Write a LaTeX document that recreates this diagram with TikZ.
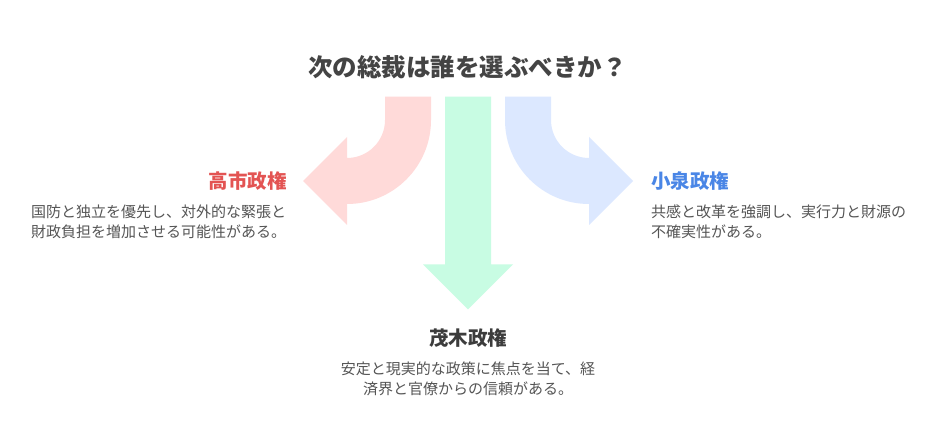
\documentclass[tikz,border=0pt]{standalone}
\usepackage{fontspec}
\setmainfont{Noto Sans CJK JP}
\definecolor{redfill}{HTML}{FFDAD9}
\definecolor{greenfill}{HTML}{C8FCE3}
\definecolor{bluefill}{HTML}{DCE8FF}
\definecolor{redtext}{HTML}{E35453}
\definecolor{bluetext}{HTML}{4A86E6}
\definecolor{darktext}{HTML}{3C3C3C}
\definecolor{titlecol}{HTML}{444444}
\definecolor{bodytext}{HTML}{555555}
\tikzset{
  arrowshape/.style={draw=none},
  titletext/.style={inner sep=0pt, font=\fontsize{24.5}{28}\selectfont\bfseries, text=titlecol},
  labeltext/.style={inner sep=0pt, font=\fontsize{19.5}{23}\selectfont\bfseries},
  bodynode/.style={inner sep=0pt, font=\fontsize{15}{20}\selectfont, text=bodytext},
}
\begin{document}
\begin{tikzpicture}[x=1pt,y=1pt]
\useasboundingbox (0,0) rectangle (936,444);
\fill[white] (0,0) rectangle (936,444);
% red arrow (left)
\fill[redfill] (385,347.3) -- (385,324) arc[start angle=0,end angle=-90,radius=38]
  -- (347,307) -- (303,263) -- (347,219) -- (347,240)
  arc[start angle=-90,end angle=0,radius=84] -- (431,347.3) -- cycle;
% blue arrow (right)
\fill[bluefill] (551,347.3) -- (551,324) arc[start angle=180,end angle=270,radius=38]
  -- (589,307) -- (633,263) -- (589,219) -- (589,240)
  arc[start angle=270,end angle=180,radius=84] -- (505,347.3) -- cycle;
% green arrow (down)
\fill[greenfill] (445,347.3) -- (491,347.3) -- (491,179.7) -- (513,179.7)
  -- (468,134.7) -- (423,179.7) -- (445,179.7) -- cycle;
% texts
\node[titletext] (title) at (467.5,377) {次の総裁は誰を選ぶべきか？};
\node[labeltext, text=redtext, anchor=east] (takaichi) at (287,263) {高市政権};
\node[bodynode, anchor=west, align=left] (takaichibody) at (31,222)
  {国防と独立を優先し、対外的な緊張と\\財政負担を増加させる可能性がある。};
\node[labeltext, text=bluetext, anchor=west] (koizumi) at (651,263) {小泉政権};
\node[bodynode, anchor=west, align=left] (koizumibody) at (651,222)
  {共感と改革を強調し、実行力と財源の\\不確実性がある。};
\node[labeltext, text=darktext] (motegi) at (468,106) {茂木政権};
\node[bodynode, align=center] (motegibody) at (468,65.5)
  {安定と現実的な政策に焦点を当て、経\\済界と官僚からの信頼がある。};
\end{tikzpicture}
\end{document}
